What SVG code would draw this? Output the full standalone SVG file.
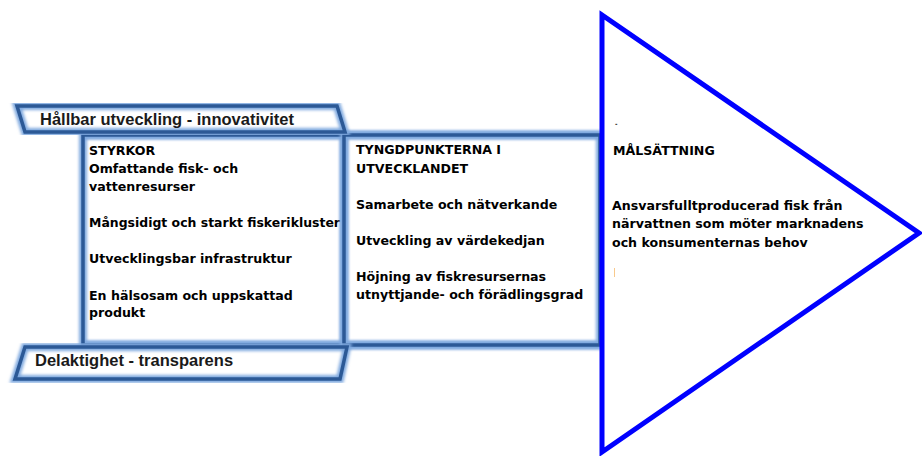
<svg xmlns="http://www.w3.org/2000/svg" width="922" height="456" viewBox="0 0 922 456">
<defs>
<filter id="soft" x="-10%" y="-10%" width="120%" height="120%">
<feGaussianBlur stdDeviation="1.6"/>
</filter>
</defs>
<style>
.glow{fill:none;stroke:#7fa9df;stroke-width:8;stroke-linejoin:miter;filter:url(#soft)}
.core{fill:none;stroke:#2c5996;stroke-width:3.5;stroke-linejoin:miter}
.bfill{fill:#ffffff}
.ban{font-family:"Liberation Sans",Arial,sans-serif;font-weight:bold;font-size:16.5px;fill:#1a1a1a}
.t{font-family:"DejaVu Sans",Verdana,sans-serif;font-weight:bold;font-size:12.6px;fill:#000000}
.tri{fill:#ffffff;stroke:#0000ff;stroke-width:5;stroke-linejoin:miter}
</style>
<rect width="922" height="456" fill="#ffffff"/>
<g id="connectors">
<path class="glow" d="M83,135 H600 M83,345 H600"/>
<path class="core" d="M83,135 H600 M83,345 H600"/>
</g>
<g id="box-styrkor">
<rect class="glow" x="83" y="135" width="261" height="210"/>
<rect class="core" x="83" y="135" width="261" height="210"/>
<text class="t" x="89" y="154.5">STYRKOR</text>
<text class="t" x="89" y="172.5">Omfattande fisk- och</text>
<text class="t" x="89" y="190.5">vattenresurser</text>
<text class="t" x="89" y="226.5" textLength="251" lengthAdjust="spacingAndGlyphs">Mångsidigt och starkt fiskerikluster</text>
<text class="t" x="89" y="263">Utvecklingsbar infrastruktur</text>
<text class="t" x="89" y="299.5">En hälsosam och uppskattad</text>
<text class="t" x="89" y="317">produkt</text>
</g>
<g id="box-tyngdpunkter">
<rect class="glow" x="344" y="135" width="256" height="210"/>
<rect class="core" x="344" y="135" width="256" height="210"/>
<text class="t" x="356" y="153.5">TYNGDPUNKTERNA I</text>
<text class="t" x="356" y="172.5">UTVECKLANDET</text>
<text class="t" x="356" y="209">Samarbete och nätverkande</text>
<text class="t" x="356" y="245">Utveckling av värdekedjan</text>
<text class="t" x="356" y="281">Höjning av fiskresursernas</text>
<text class="t" x="356" y="299">utnyttjande- och förädlingsgrad</text>
</g>
<g id="banner-top">
<polygon class="bfill" points="17,106 337,106 345,132 25,132"/>
<polygon class="glow" points="17,106 337,106 345,132 25,132"/>
<polygon class="core" points="17,106 337,106 345,132 25,132"/>
<text class="ban" x="40" y="125">Hållbar utveckling - innovativitet</text>
</g>
<g id="banner-bottom">
<polygon class="bfill" points="25,347 347,347 340,379 15,379"/>
<polygon class="glow" points="25,347 347,347 340,379 15,379"/>
<polygon class="core" points="25,347 347,347 340,379 15,379"/>
<text class="ban" x="35" y="366">Delaktighet - transparens</text>
</g>
<g id="goal">
<polygon class="tri" points="602,15 602,452 919,233"/>
<text class="t" x="615" y="126" style="font-size:6px">-</text>
<text class="t" x="613" y="155">MÅLSÄTTNING</text>
<text class="t" x="612" y="210">Ansvarsfulltproducerad fisk från</text>
<text class="t" x="612" y="228">närvattnen som möter marknadens</text>
<text class="t" x="612" y="246.5">och konsumenternas behov</text>
<line x1="614.5" y1="268" x2="614.5" y2="277" stroke="#f8c98c" stroke-width="1"/>
</g>
</svg>
